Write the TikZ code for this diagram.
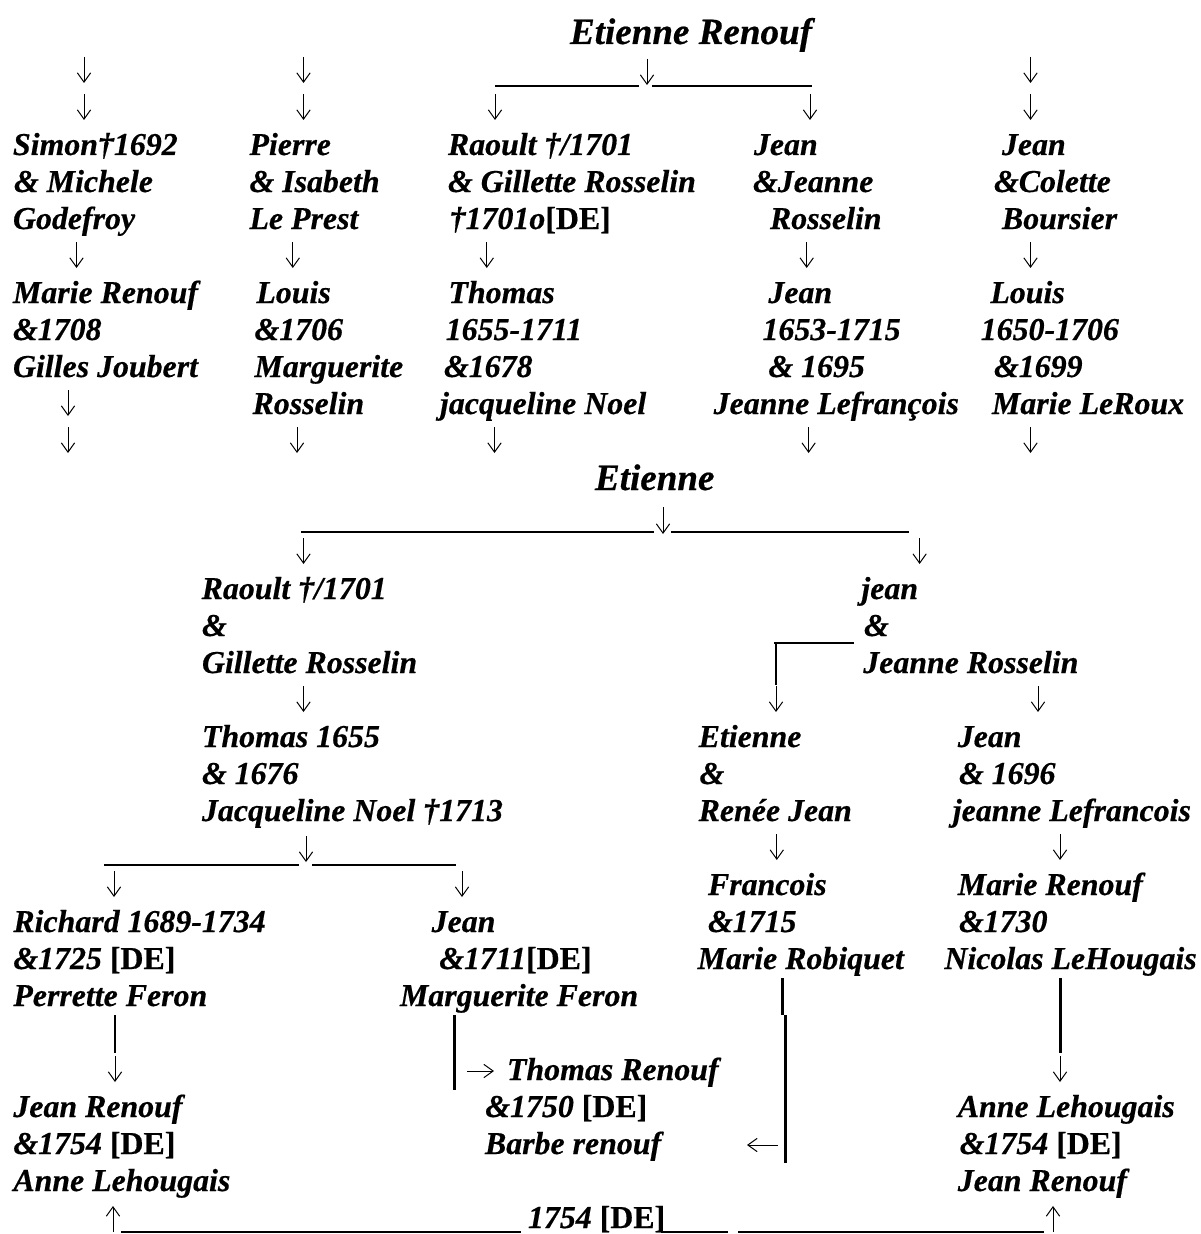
\documentclass[tikz,border=0pt]{standalone}
\usepackage{fontspec}
\setmainfont{Liberation Serif}[BoldItalicFeatures={FakeBold=0.5},BoldFeatures={FakeBold=0.4}]
\usetikzlibrary{arrows.meta}
\newcommand\deTag{\upshape[DE]}
\newcommand\dnar[3]{%
  \coordinate (#1-s) at (#2,#3-24);
  \coordinate (#1-e) at (#2,#3+2);
  \draw[dn] (#1-s) -- (#1-e);}
\newcommand\upar[3]{%
  \coordinate (#1-s) at (#2,#3+4);
  \coordinate (#1-e) at (#2,#3-22);
  \draw[dn] (#1-s) -- (#1-e);}
\newcommand\hseg[5]{% name, x1, x2, y, style
  \coordinate (#1-a) at (#2,#4);
  \coordinate (#1-b) at (#3,#4);
  \draw[#5] (#1-a) -- (#1-b);}
\newcommand\vbar[4]{% name, x, y1, y2
  \coordinate (#1-a) at (#2,#3);
  \coordinate (#1-b) at (#2,#4);
  \draw[bar] (#1-a) -- (#1-b);}
\tikzset{
  tx/.style={anchor=base west, inner sep=0pt, outer sep=0pt,
    font=\fontsize{23.9pt}{28pt}\selectfont\bfseries\itshape},
  ttl/.style={tx, font=\fontsize{27.8pt}{32pt}\selectfont\bfseries\itshape},
  dn/.style={line width=0.75pt, -{Straight Barb[length=7pt,width=10pt,line width=0.75pt]}},
  uthin/.style={line width=0.8pt},
  uline/.style={line width=1.4pt},
  bar/.style={line width=1.9pt},
}
\begin{document}
\begin{tikzpicture}[x=0.75pt, y=-0.75pt]
\useasboundingbox (0,0) rectangle (1200,1234);
% ---------- top section ----------
\node[ttl] (top) at (570,44) {Etienne Renouf};
\hseg{l1}{495}{639}{86}{uthin}
\coordinate (topa-s) at (647,59); \coordinate (topa-e) at (647,85);
\draw[dn] (topa-s) -- (topa-e);
\hseg{l2}{652}{812}{86}{uline}
% arrows rows -2, -1
\dnar{a1}{84}{81}   \dnar{a2}{303.5}{81}  \dnar{a3}{1030.5}{81}
\dnar{a4}{84}{118}  \dnar{a5}{303.5}{118} \dnar{a6}{495}{118} \dnar{a7}{810}{118} \dnar{a8}{1030.5}{118}
% column 1
\node[tx] (c1r0) at (13,155) {Simon†1692};
\node[tx] (c1r1) at (14,192) {\& Michele};
\node[tx] (c1r2) at (13,229) {Godefroy};
\node[tx] (c1r4) at (13,303) {Marie Renouf};
\node[tx] (c1r5) at (13,340) {\&1708};
\node[tx] (c1r6) at (13,377) {Gilles Joubert};
% column 2
\node[tx] (c2r0) at (249.5,155) {Pierre};
\node[tx] (c2r1) at (249.5,192) {\& Isabeth};
\node[tx] (c2r2) at (249.5,229) {Le Prest};
\node[tx] (c2r4) at (256.4,303) {Louis};
\node[tx] (c2r5) at (254.5,340) {\&1706};
\node[tx] (c2r6) at (254.5,377) {Marguerite};
\node[tx] (c2r7) at (252.6,414) {Rosselin};
% column 3
\node[tx] (c3r0) at (448,155) {Raoult †/1701};
\node[tx] (c3r1) at (448,192) {\& Gillette Rosselin};
\node[tx] (c3r2) at (449.7,229) {†1701o\deTag};
\node[tx] (c3r4) at (448.5,303) {Thomas};
\node[tx] (c3r5) at (445.8,340) {1655-1711};
\node[tx] (c3r6) at (444,377) {\&1678};
\node[tx] (c3r7) at (440,414) {jacqueline Noel};
% column 4
\node[tx] (c4r0) at (754,155) {Jean};
\node[tx] (c4r1) at (753,192) {\&Jeanne};
\node[tx] (c4r2) at (770,229) {Rosselin};
\node[tx] (c4r4) at (768.4,303) {Jean};
\node[tx] (c4r5) at (762.6,340) {1653-1715};
\node[tx] (c4r6) at (768.4,377) {\& 1695};
\node[tx] (c4r7) at (713.7,414) {Jeanne Lefrançois};
% column 5
\node[tx] (c5r0) at (1002,155) {Jean};
\node[tx] (c5r1) at (994,192) {\&Colette};
\node[tx] (c5r2) at (1002,229) {Boursier};
\node[tx] (c5r4) at (990.4,303) {Louis};
\node[tx] (c5r5) at (980.8,340) {1650-1706};
\node[tx] (c5r6) at (994,377) {\&1699};
\node[tx] (c5r7) at (992,414) {Marie LeRoux};
% arrows rows 3, 7, 8
\dnar{b1}{76.5}{266} \dnar{b2}{292.8}{266} \dnar{b3}{486.8}{266} \dnar{b4}{806.7}{266} \dnar{b5}{1030.5}{266}
\dnar{b6}{68}{414}
\dnar{c1}{68}{451} \dnar{c2}{297}{451} \dnar{c3}{494.5}{451} \dnar{c4}{808.6}{451} \dnar{c5}{1030.5}{451}
% ---------- middle section ----------
\node[ttl] (mid) at (595,490) {Etienne};
\hseg{m1}{301}{654}{532}{uline}
\coordinate (mida-s) at (663,507); \coordinate (mida-e) at (663,534);
\draw[dn] (mida-s) -- (mida-e);
\hseg{m2}{671}{909}{532}{uline}
\dnar{d1}{303.5}{562} \dnar{d2}{919.6}{562}
\node[tx] (lr12) at (201.7,599) {Raoult †/1701};
\node[tx] (lr13) at (202,636) {\&};
\node[tx] (lr14) at (202,673) {Gillette Rosselin};
\node[tx] (rr12) at (861.4,599) {jean};
\node[tx] (rr13) at (864,636) {\&};
\node[tx] (rr14) at (863.3,673) {Jeanne Rosselin};
\hseg{m3}{774}{854}{643}{uline}
\vbar{v0}{776}{643}{685}
\dnar{e1}{303.5}{710} \dnar{e2}{776}{710} \dnar{e3}{1038}{710}
\node[tx] (lr16) at (202,747) {Thomas 1655};
\node[tx] (lr17) at (202,784) {\& 1676};
\node[tx] (lr18) at (202,821) {Jacqueline Noel †1713};
\node[tx] (er16) at (698.7,747) {Etienne};
\node[tx] (er17) at (699.5,784) {\&};
\node[tx] (er18) at (698.7,821) {Renée Jean};
\node[tx] (jr16) at (957.8,747) {Jean};
\node[tx] (jr17) at (959,784) {\& 1696};
\node[tx] (jr18) at (952.8,821) {jeanne Lefrancois};
% ---------- lower section ----------
\hseg{n1}{104}{298.5}{865}{uline}
\dnar{f0}{306}{860}
\hseg{n2}{312}{456}{865}{uline}
\dnar{f1}{776.8}{858} \dnar{f2}{1060}{858}
\dnar{g1}{114}{895} \dnar{g2}{462}{895}
\node[tx] (fr20) at (708,895) {Francois};
\node[tx] (mr20) at (957.8,895) {Marie Renouf};
\node[tx] (rc21) at (13.4,932) {Richard 1689-1734};
\node[tx] (jn21) at (431.7,932) {Jean};
\node[tx] (fr21) at (708,932) {\&1715};
\node[tx] (mr21) at (959,932) {\&1730};
\node[tx] (rc22) at (13.4,969) {\&1725 \deTag};
\node[tx] (jn22) at (439.3,969) {\&1711\deTag};
\node[tx] (fr22) at (697.6,969) {Marie Robiquet};
\node[tx] (mr22) at (944.4,969) {Nicolas LeHougais};
\node[tx] (rc23) at (13.4,1006) {Perrette Feron};
\node[tx] (jn23) at (400,1006) {Marguerite Feron};
% bars
\vbar{v1}{114.8}{1015}{1053}
\vbar{v2}{454.6}{1015}{1090}
\vbar{v3}{782.5}{978}{1015}
\vbar{v4}{785.5}{1015}{1163}
\vbar{v5}{1060.4}{978}{1053}
\dnar{h1}{115}{1080} \dnar{h2}{1060}{1080}
\coordinate (ra-s) at (467,1071); \coordinate (ra-e) at (494,1071);
\draw[dn] (ra-s) -- (ra-e);
\node[tx] (tr25) at (507,1080) {Thomas Renouf};
\node[tx] (tr26) at (485.3,1117) {\&1750 \deTag};
\node[tx] (tr27) at (485,1154) {Barbe renouf};
\coordinate (la-s) at (778,1145); \coordinate (la-e) at (747,1145);
\draw[dn] (la-s) -- (la-e);
\node[tx] (jl26) at (13.4,1117) {Jean Renouf};
\node[tx] (jl27) at (13.4,1154) {\&1754 \deTag};
\node[tx] (jl28) at (13.4,1191) {Anne Lehougais};
\node[tx] (ar26) at (957.8,1117) {Anne Lehougais};
\node[tx] (ar27) at (959.7,1154) {\&1754 \deTag};
\node[tx] (ar28) at (957.8,1191) {Jean Renouf};
% bottom line
\upar{u1}{113}{1228}
\hseg{o1}{121}{521}{1232}{uline}
\node[tx] (yr) at (528,1228) {1754 \deTag};
\hseg{o2}{661}{728}{1232}{uline}
\hseg{o3}{738}{1044}{1232}{uline}
\upar{u2}{1053}{1228}
\end{tikzpicture}
\end{document}
